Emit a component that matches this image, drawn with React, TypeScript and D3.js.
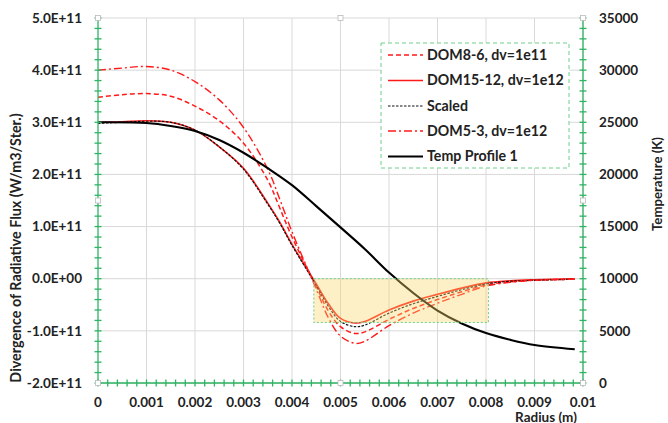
import React from "react";
import * as d3 from "d3";

// Radius samples (m) shared by the divergence series
const radius = [0, 0.0005, 0.001, 0.0015, 0.002, 0.0025, 0.003, 0.0035, 0.00375, 0.004, 0.0045, 0.00475, 0.005, 0.0053, 0.0055, 0.006, 0.0065, 0.007, 0.0075, 0.008, 0.0085, 0.009, 0.00983];

// Divergence of radiative flux (W/m3/Ster.)
const dom8_6 = [3.48e11, 3.53e11, 3.55e11, 3.5e11, 3.31e11, 3.03e11, 2.6e11, 1.89e11, 1.35e11, 0.8e11, -0.15e11, -0.62e11, -0.92e11, -1.05e11, -1.02e11, -0.78e11, -0.57e11, -0.4e11, -0.25e11, -0.12e11, -0.06e11, -0.03e11, -0.01e11];
const dom15_12 = [3.0e11, 3.01e11, 3.03e11, 3.0e11, 2.85e11, 2.53e11, 2.12e11, 1.45e11, 1.08e11, 0.66e11, -0.1e11, -0.48e11, -0.76e11, -0.85e11, -0.82e11, -0.6e11, -0.43e11, -0.3e11, -0.18e11, -0.08e11, -0.04e11, -0.02e11, 0];
const scaled = [2.98e11, 3.0e11, 3.02e11, 3.0e11, 2.85e11, 2.53e11, 2.1e11, 1.43e11, 1.06e11, 0.64e11, -0.13e11, -0.53e11, -0.82e11, -0.92e11, -0.89e11, -0.66e11, -0.48e11, -0.34e11, -0.21e11, -0.1e11, -0.05e11, -0.03e11, -0.01e11];
const dom5_3 = [4.0e11, 4.04e11, 4.07e11, 4.0e11, 3.78e11, 3.43e11, 2.9e11, 2.1e11, 1.52e11, 0.9e11, -0.2e11, -0.75e11, -1.1e11, -1.24e11, -1.2e11, -0.9e11, -0.66e11, -0.47e11, -0.3e11, -0.14e11, -0.07e11, -0.03e11, -0.01e11];

// Temperature profile (K)
const tempRadius = [0, 0.001, 0.0015, 0.002, 0.0025, 0.003, 0.0035, 0.004, 0.0045, 0.005, 0.0055, 0.006, 0.0065, 0.007, 0.0075, 0.008, 0.0085, 0.009, 0.00983];
const tempProfile = [25000, 24930, 24640, 24160, 23300, 22080, 20600, 18970, 16960, 14920, 12850, 10590, 8630, 6950, 5710, 4790, 4140, 3640, 3230];

// Highlighted region (radius range and divergence range)
const highlightRadius = [0.00445, 0.00805];
const highlightDiv = [-0.84e11, 0];

const xTicks = [0, 0.001, 0.002, 0.003, 0.004, 0.005, 0.006, 0.007, 0.008, 0.009, 0.01];
const xTickLabels = ["0", "0.001", "0.002", "0.003", "0.004", "0.005", "0.006", "0.007", "0.008", "0.009", "0.01"];
const leftTicks = [-2e11, -1e11, 0, 1e11, 2e11, 3e11, 4e11, 5e11];
const leftTickLabels = ["-2.0E+11", "-1.0E+11", "0.0E+00", "1.0E+11", "2.0E+11", "3.0E+11", "4.0E+11", "5.0E+11"];
const rightTicks = [0, 5000, 10000, 15000, 20000, 25000, 30000, 35000];
const rightTickLabels = ["0", "5000", "10000", "15000", "20000", "25000", "30000", "35000"];

const legendNames = ["DOM8-6, dv=1e11", "DOM15-12, dv=1e12", "Scaled", "DOM5-3, dv=1e12", "Temp Profile 1"];

const W = 668;
const H = 423;
const left = 98, right = 583, top = 18, bottom = 383;
const AXIS = "#2fb463";
const GRID = "#d9d9d9";
const FONT = "Lato, 'Open Sans', sans-serif";

export default function App() {
  const x = d3.scaleLinear().domain([0, 0.01]).range([left, right]);
  const yL = d3.scaleLinear().domain([-2e11, 5e11]).range([bottom, top]);
  const yR = d3.scaleLinear().domain([0, 35000]).range([bottom, top]);

  const divLine = d3
    .line<[number, number]>()
    .x((d) => x(d[0]))
    .y((d) => yL(d[1]))
    .curve(d3.curveCatmullRom.alpha(0.5));
  const tLine = d3
    .line<[number, number]>()
    .x((d) => x(d[0]))
    .y((d) => yR(d[1]))
    .curve(d3.curveCatmullRom.alpha(0.5));

  const pairs = (vals: number[]) => radius.map((r, i) => [r, vals[i]] as [number, number]);
  const tempPairs = tempRadius.map((r, i) => [r, tempProfile[i]] as [number, number]);

  const series = [
    { name: legendNames[0], d: divLine(pairs(dom8_6)), color: "#ff1a1a", width: 1.5, dash: "5,3" },
    { name: legendNames[1], d: divLine(pairs(dom15_12)), color: "#ff1a1a", width: 1.6, dash: "" },
    { name: legendNames[2], d: divLine(pairs(scaled)), color: "#111", width: 1.2, dash: "2.5,1.5" },
    { name: legendNames[3], d: divLine(pairs(dom5_3)), color: "#ff1a1a", width: 1.4, dash: "8,3,2,3" },
    { name: legendNames[4], d: tLine(tempPairs), color: "#000", width: 2.1, dash: "" },
  ];

  const xMinor = d3.range(0, 0.01 + 1e-9, 0.0002);
  const lMinor = d3.range(-2e11, 5e11 + 1, 0.2e11);
  const rMinor = d3.range(0, 35001, 1000);

  const handles: [number, number][] = [
    [left, top], [(left + right) / 2, top], [right, top],
    [left, (top + bottom) / 2], [right, (top + bottom) / 2],
    [left, bottom], [(left + right) / 2, bottom], [right, bottom],
  ];

  const legX = 381, legY = 43, legW = 188, legH = 125;
  const legRows = [55, 80.5, 106, 131, 156.5];

  return (
    <svg width={W} height={H} style={{ position: "absolute", left: 0, top: 0, background: "#fff" }} fontFamily={FONT}>
      {/* gridlines */}
      {xTicks.slice(1).map((t) => (
        <line key={"gx" + t} x1={x(t)} x2={x(t)} y1={top} y2={bottom} stroke={GRID} strokeWidth={1} />
      ))}
      {leftTicks.map((t) => (
        <line key={"gy" + t} x1={left} x2={right} y1={yL(t)} y2={yL(t)} stroke={GRID} strokeWidth={1} />
      ))}

      {/* series */}
      {series.map((s) => (
        <path key={s.name} d={s.d || ""} fill="none" stroke={s.color} strokeWidth={s.width} strokeDasharray={s.dash || undefined} />
      ))}

      {/* highlighted region */}
      <rect
        x={x(highlightRadius[0])}
        y={yL(highlightDiv[1])}
        width={x(highlightRadius[1]) - x(highlightRadius[0])}
        height={yL(highlightDiv[0]) - yL(highlightDiv[1])}
        fill="#fbd46a"
        fillOpacity={0.38}
        stroke="#6fd08c"
        strokeWidth={1}
        strokeDasharray="2,2"
      />

      {/* axes */}
      <line x1={left} x2={left} y1={top} y2={bottom} stroke={AXIS} strokeWidth={1.3} />
      <line x1={right} x2={right} y1={top} y2={bottom} stroke={AXIS} strokeWidth={1.3} />
      <line x1={left} x2={right} y1={bottom} y2={bottom} stroke={AXIS} strokeWidth={1.3} />
      {lMinor.map((t) => (
        <line key={"lt" + t} x1={left - 3.5} x2={left + 3.5} y1={yL(t)} y2={yL(t)} stroke={AXIS} strokeWidth={1.3} />
      ))}
      {rMinor.map((t) => (
        <line key={"rt" + t} x1={right - 3.5} x2={right + 3.5} y1={yR(t)} y2={yR(t)} stroke={AXIS} strokeWidth={1.3} />
      ))}
      {xMinor.map((t) => (
        <line key={"xt" + t} x1={x(t)} x2={x(t)} y1={bottom - 3.5} y2={bottom + 3.5} stroke={AXIS} strokeWidth={1.3} />
      ))}

      {/* plot-area handles */}
      {handles.map(([hx, hy], i) => (
        <rect key={"h" + i} x={hx - 2.5} y={hy - 2.5} width={5} height={5} fill="#fff" stroke="#bbb" strokeWidth={0.8} />
      ))}

      {/* tick labels */}
      {leftTicks.map((t, i) => (
        <text key={"ll" + t} x={82} y={yL(t)} dy="0.35em" textAnchor="end" fontSize={13.5} fontWeight={700} fill="#222">
          {leftTickLabels[i]}
        </text>
      ))}
      {rightTicks.map((t, i) => (
        <text key={"rl" + t} x={599} y={yR(t)} dy="0.35em" textAnchor="start" fontSize={13.5} fontWeight={700} fill="#222">
          {rightTickLabels[i]}
        </text>
      ))}
      {xTicks.map((t, i) => (
        <text key={"xl" + t} x={x(t)} y={406.5} textAnchor="middle" fontSize={13.5} fontWeight={700} fill="#222">
          {xTickLabels[i]}
        </text>
      ))}

      {/* axis titles */}
      <text transform="translate(21,248) rotate(-90)" textAnchor="middle" fontSize={14.3} fontWeight={700} fill="#222">
        Divergence of Radiative Flux (W/m3/Ster.)
      </text>
      <text transform="translate(662,184) rotate(-90)" textAnchor="middle" fontSize={13.2} fontWeight={700} fill="#222">
        Temperature (K)
      </text>
      <text x={546} y={421.5} textAnchor="middle" fontSize={13.5} fontWeight={700} fill="#222">
        Radius (m)
      </text>

      {/* legend */}
      <rect x={legX} y={legY} width={legW} height={legH} fill="#fff" stroke="#6fd08c" strokeWidth={1} strokeDasharray="4,3" />
      {series.map((s, i) => (
        <g key={"leg" + i}>
          <line x1={388} x2={423} y1={legRows[i]} y2={legRows[i]} stroke={s.color} strokeWidth={s.width} strokeDasharray={s.dash || undefined} />
          <text x={427} y={legRows[i]} dy="0.35em" fontSize={14.2} fontWeight={700} fill="#222">
            {s.name}
          </text>
        </g>
      ))}
    </svg>
  );
}
